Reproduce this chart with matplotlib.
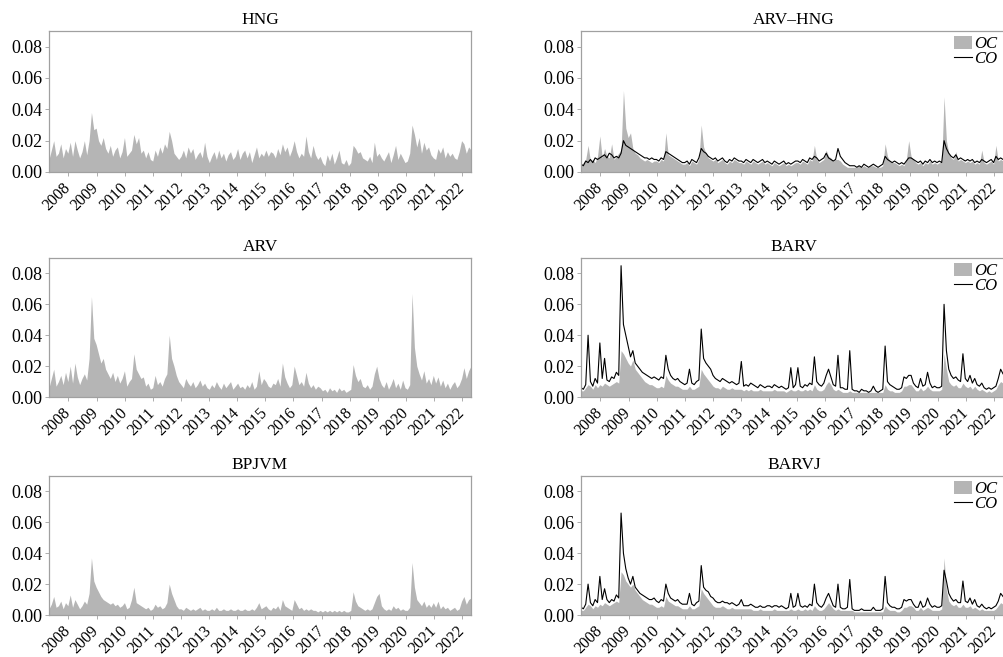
import numpy as np
import matplotlib
matplotlib.use("Agg")
import matplotlib.pyplot as plt
from matplotlib.patches import Patch
from matplotlib.lines import Line2D

plt.rcParams['font.family'] = ['Liberation Serif', 'DejaVu Serif']

# ---- data (monthly, May 2007 - Apr 2022), in units of 0.001 ----
years = list(range(2008, 2023))
year_labels = [str(y) for y in years]
yticks = [0.00, 0.02, 0.04, 0.06, 0.08]

hng = [8,14,20,10,12,18,9,15,
       12,19,10,20,14,9,13,20,11,20,38,27,
       28,20,17,22,15,12,17,10,14,16,9,13,
       22,10,12,14,24,18,22,12,14,9,13,8,
       7,14,10,16,12,18,15,26,20,12,10,8,
       10,14,9,16,12,15,8,11,13,9,19,10,
       6,10,13,8,14,9,12,7,11,13,8,10,
       15,8,12,14,9,13,6,11,16,9,12,10,
       14,10,13,12,9,15,11,18,13,16,10,14,
       20,13,9,12,10,23,13,9,17,11,8,10,
       6,4,11,7,12,5,9,14,6,5,8,4,
       6,17,15,12,13,9,8,7,10,6,19,10,
       12,9,7,10,13,6,11,17,8,12,9,6,
       7,12,30,24,16,22,12,19,14,16,11,9,
       8,15,12,16,9,13,10,12,9,8,13,20,
       18,12,16,14]

arv = [6,12,18,7,10,14,8,16,
       10,20,9,22,13,8,12,15,11,25,65,38,
       34,28,22,25,18,15,12,16,10,14,9,12,
       17,7,10,12,28,18,15,12,13,7,9,5,
       6,14,8,10,7,12,15,40,25,20,14,10,
       8,6,12,9,7,10,6,8,11,7,9,6,
       5,8,6,10,7,5,9,6,8,10,5,7,
       9,6,7,5,8,6,10,5,7,17,8,12,
       10,7,6,9,8,12,7,22,13,9,6,8,
       20,14,8,10,7,16,9,6,8,5,7,6,
       4,5,3,6,4,5,3,6,4,5,3,4,
       5,21,14,10,12,7,6,8,5,7,15,20,
       12,8,6,10,5,8,12,6,9,5,11,6,
       5,8,67,32,20,15,11,17,9,12,8,14,
       9,13,7,11,6,9,5,8,10,6,8,12,
       19,12,17,20]

bpjvm = [4,7,12,5,6,9,4,8,
         6,13,5,10,7,4,6,9,7,14,37,22,
         18,15,12,10,9,8,7,8,6,7,5,6,
         8,4,5,10,18,8,7,6,5,4,5,3,
         4,7,5,6,4,5,8,20,14,10,6,4,
         4,3,5,4,3,4,3,4,5,3,4,3,
         3,4,3,5,3,3,4,3,3,4,3,3,
         4,3,3,4,3,3,4,3,5,8,4,5,
         6,4,3,5,4,6,3,10,6,5,4,3,
         10,7,4,5,3,4,3,4,3,3,2,3,
         2,3,2,3,2,3,2,3,2,3,2,2,
         3,15,9,6,5,4,3,4,3,4,8,12,
         14,6,4,3,4,3,6,4,5,3,4,3,
         3,5,34,18,10,8,6,9,5,7,5,8,
         5,9,4,6,4,5,3,4,5,3,4,9,
         12,7,10,11]

arvhng_oc = [4,6,8,17,7,8,6,10,
             23,9,15,10,9,18,8,10,12,14,52,28,
             22,25,15,12,11,9,8,7,8,7,6,7,
             7,6,8,7,25,11,10,9,8,7,6,5,
             5,6,4,7,6,5,8,30,16,12,9,8,
             7,8,6,7,8,6,5,7,6,8,7,6,
             6,5,7,6,5,7,6,5,6,7,5,6,
             5,4,6,5,4,5,6,4,5,4,5,6,
             6,5,7,6,5,8,7,17,8,6,7,8,
             14,10,9,7,8,8,7,5,4,3,3,3,
             3,3,4,3,4,3,3,4,4,3,3,3,
             4,18,10,7,6,6,5,4,5,4,8,20,
             10,8,6,5,6,4,6,5,7,5,6,5,
             6,6,48,20,12,9,8,13,7,8,7,6,
             7,6,7,5,6,5,14,6,5,6,7,5,
             17,7,8,7]
arvhng_co = [5,4,7,6,8,6,9,8,
             9,10,11,9,12,11,9,10,9,12,20,17,
             16,15,14,13,12,11,10,9,9,8,9,8,
             8,7,9,8,13,12,11,10,9,8,7,6,
             6,7,5,8,7,6,9,15,13,12,10,9,
             8,9,7,8,9,7,6,8,7,9,8,7,
             7,6,8,7,6,8,7,6,7,8,6,7,
             6,5,7,6,5,6,7,5,6,5,6,7,
             7,6,8,7,6,9,8,10,9,7,8,9,
             12,9,8,7,8,15,10,8,6,5,4,4,
             4,3,4,3,5,4,3,4,5,4,3,4,
             5,10,8,7,6,7,6,5,6,5,7,9,
             9,8,7,6,7,5,7,6,8,6,7,6,
             7,6,20,15,12,10,9,11,8,9,8,7,
             8,7,8,6,7,6,8,7,6,7,8,6,
             10,8,9,8]

barv_oc = [4,4,6,8,7,5,8,6,
           8,7,9,8,7,8,9,10,9,30,28,25,
           22,20,24,18,16,14,12,10,9,8,8,7,
           6,6,7,6,14,11,9,8,7,7,6,5,
           5,5,7,5,5,6,7,18,15,13,11,9,
           7,6,6,5,7,6,5,5,6,5,5,5,
           5,4,5,4,5,4,4,4,5,4,4,4,
           4,4,5,4,4,4,4,3,4,5,4,4,
           5,4,4,5,4,5,4,8,5,4,4,5,
           8,10,8,5,4,5,4,3,3,3,4,3,
           3,3,3,3,3,3,3,3,3,3,3,3,
           3,8,5,4,4,3,3,3,4,7,7,8,
           8,6,4,4,6,4,5,7,5,4,4,4,
           4,5,28,18,10,8,7,8,6,6,9,7,
           6,7,5,7,5,4,5,4,3,4,3,4,
           5,8,10,9]
barv_co = [6,5,8,40,10,7,12,9,
           35,12,25,11,10,13,12,16,14,85,47,40,
           33,26,30,22,20,18,16,15,14,13,12,13,
           12,11,13,12,27,18,14,12,11,12,10,9,
           8,9,18,9,8,10,11,44,25,22,20,18,
           14,12,11,10,12,11,10,9,10,9,8,9,
           23,7,8,7,9,8,7,6,8,7,6,7,
           7,6,8,7,6,7,6,5,6,19,6,8,
           19,7,6,8,7,9,8,26,10,8,7,9,
           14,18,13,8,7,27,6,6,5,5,30,5,
           4,4,3,5,4,4,3,4,7,4,3,4,
           5,33,10,8,7,6,5,5,6,13,12,14,
           14,9,7,6,12,7,8,16,9,6,7,6,
           6,7,60,30,18,14,12,13,11,10,28,12,
           10,14,9,12,8,7,9,6,5,6,5,6,
           7,12,18,15]

barvj_oc = [3,3,5,7,6,4,6,5,
            7,6,8,7,6,7,8,9,8,28,26,22,
            20,18,20,16,14,12,10,9,8,7,7,6,
            5,5,6,5,12,9,8,7,6,6,5,4,
            4,4,6,4,4,5,6,17,14,12,10,8,
            6,5,5,5,6,5,4,4,5,4,4,4,
            4,4,4,4,4,3,3,3,4,3,3,3,
            3,3,4,3,3,3,3,3,3,4,3,3,
            4,3,3,4,3,4,3,6,4,3,3,4,
            6,8,6,4,3,4,3,3,3,3,3,3,
            2,2,2,2,2,2,2,2,2,2,2,2,
            2,6,4,3,3,3,2,2,3,5,5,6,
            6,5,3,3,5,3,4,5,4,3,3,3,
            3,4,37,16,9,7,6,7,5,5,7,5,
            5,6,4,5,4,3,4,3,3,3,3,3,
            4,6,8,7]
barvj_co = [5,4,7,20,8,6,10,8,
            25,10,17,10,8,10,9,13,11,66,40,30,
            24,20,25,18,16,14,13,12,11,10,10,11,
            9,8,10,9,20,14,11,10,9,10,8,7,
            7,7,14,7,6,8,9,32,18,16,15,12,
            11,9,8,8,9,8,8,7,8,7,6,7,
            10,6,6,6,7,6,5,5,6,5,5,6,
            6,5,6,6,5,6,5,4,5,14,5,6,
            14,6,5,6,5,7,6,20,8,6,5,7,
            11,14,10,6,5,20,5,4,4,5,23,4,
            3,3,3,4,3,3,3,3,5,3,3,3,
            4,25,8,6,5,5,4,4,5,10,9,10,
            10,7,5,5,9,5,6,11,7,5,6,5,
            5,6,29,22,14,11,9,10,8,8,22,9,
            8,11,7,10,6,5,7,5,4,5,4,5,
            6,9,14,12]

T0, T1 = 2007.31, 2022.31
t = np.linspace(T0, T1, len(hng))
scale = 1e-3

W, H = 1004, 657
fig = plt.figure(figsize=(W / 100, H / 100), dpi=100)

FILL = '#b5b5b5'
SPINE = '#a0a0a0'


def make_ax(left_px, width_px, top_px, bottom_px, xmax):
    ax = fig.add_axes([left_px / W, 1 - bottom_px / H, width_px / W, (bottom_px - top_px) / H])
    ax.set_xlim(T0, xmax)
    ax.set_ylim(0, 0.09)
    ax.set_yticks(yticks)
    ax.set_yticklabels([f"{v:.2f}" for v in yticks], fontsize=13)
    ax.set_xticks(years)
    ax.set_xticklabels(year_labels, fontsize=11.5, rotation=45, ha='right',
                       va='center', rotation_mode='anchor')
    for s in ax.spines.values():
        s.set_color(SPINE)
        s.set_linewidth(0.9)
    ax.tick_params(axis='both', direction='out', length=3, width=0.6, color=SPINE, pad=2)
    ax.tick_params(axis='x', pad=7)
    return ax


rows = [(31, 172), (258, 397), (476, 615)]
left_data = [("HNG", hng), ("ARV", arv), ("BPJVM", bpjvm)]
right_data = [("ARV–HNG", arvhng_oc, arvhng_co), ("BARV", barv_oc, barv_co),
              ("BARVJ", barvj_oc, barvj_co)]

pxyr = 422 / (T1 - T0)
for (top, bot), (name, vals) in zip(rows, left_data):
    ax = make_ax(49, 422, top, bot, T1)
    ax.fill_between(t, 0, np.array(vals) * scale, color=FILL, lw=0)
    ax.set_title(name, fontsize=12.5, pad=5)

for (top, bot), (name, oc, co) in zip(rows, right_data):
    wpx = 426
    ax = make_ax(581, wpx, top, bot, T0 + wpx / pxyr)
    ax.fill_between(t, 0, np.array(oc) * scale, color=FILL, lw=0)
    ax.plot(t, np.array(co) * scale, color='black', lw=0.8)
    ax.set_title(name, fontsize=12.5, pad=5)
    handles = [Patch(facecolor=FILL, edgecolor='none'),
               Line2D([], [], color='black', lw=0.8)]
    ax.legend(handles, ['OC', 'CO'], loc='upper right',
              bbox_to_anchor=((997 - 581) / wpx, 0.965),
              frameon=False, prop={'family': 'Liberation Serif', 'style': 'italic', 'size': 12},
              handlelength=1.1, handleheight=0.8, handletextpad=0.1, labelspacing=-0.05,
              borderaxespad=0.0, borderpad=0.0)

fig.savefig('out.png', dpi=100)
